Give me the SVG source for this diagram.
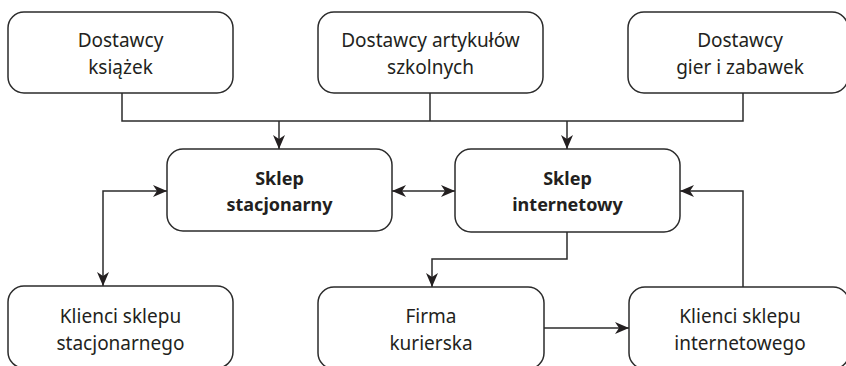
<svg xmlns="http://www.w3.org/2000/svg" width="846" height="366" viewBox="0 0 846 366">
  <style>
    .box { fill: #ffffff; stroke: #2b2b2b; stroke-width: 1.5; }
    .lbl { font-family: "Noto Sans", "Open Sans", sans-serif; font-size: 19px; fill: #231f20; text-anchor: middle; }
    .bold { font-weight: bold; font-size: 18px; }
    .wire { fill: none; stroke: #2b2b2b; stroke-width: 1.5; }
  </style>
  <defs>
    <marker id="head" viewBox="0 0 14 12" refX="14" refY="6" markerWidth="14" markerHeight="12" markerUnits="userSpaceOnUse" orient="auto-start-reverse">
      <path d="M0,0 L14,6 L0,12 L4,6 Z" fill="#231f20"/>
    </marker>
  </defs>

  <rect width="846" height="366" fill="#ffffff"/>

  <!-- connectors -->
  <g id="connectors">
    <!-- supplier bus -->
    <path class="wire" d="M122,93 V121 H743 V93"/>
    <path class="wire" d="M430,93 V121"/>
    <path class="wire" d="M279,121 V149" marker-end="url(#head)"/>
    <path class="wire" d="M567,121 V149" marker-end="url(#head)"/>
    <!-- between shops -->
    <path class="wire" d="M392,191 H455" marker-start="url(#head)" marker-end="url(#head)"/>
    <!-- stationary shop to its customers -->
    <path class="wire" d="M167,191 H103 V286" marker-start="url(#head)" marker-end="url(#head)"/>
    <!-- online shop to courier -->
    <path class="wire" d="M567,232 V259 H432 V287" marker-end="url(#head)"/>
    <!-- courier to online customers -->
    <path class="wire" d="M544,328 H629" marker-end="url(#head)"/>
    <!-- online customers back to online shop -->
    <path class="wire" d="M743,287 V191 H680" marker-end="url(#head)"/>
  </g>

  <g id="dostawcy-ksiazek">
    <rect class="box" x="8" y="12" width="225" height="81" rx="16"/>
    <text class="lbl" x="120.5" y="47">Dostawcy</text>
    <text class="lbl" x="120.5" y="74">książek</text>
  </g>
  <g id="dostawcy-artykulow">
    <rect class="box" x="318" y="12" width="225" height="81" rx="16"/>
    <text class="lbl" x="430.5" y="47">Dostawcy artykułów</text>
    <text class="lbl" x="430.5" y="74">szkolnych</text>
  </g>
  <g id="dostawcy-gier">
    <rect class="box" x="628" y="12" width="220" height="81" rx="16"/>
    <text class="lbl" x="740" y="47">Dostawcy</text>
    <text class="lbl" x="740" y="74">gier i zabawek</text>
  </g>

  <g id="sklep-stacjonarny">
    <rect class="box" x="167" y="149" width="225" height="82" rx="16"/>
    <text class="lbl bold" x="279.5" y="185">Sklep</text>
    <text class="lbl bold" x="279.5" y="211">stacjonarny</text>
  </g>
  <g id="sklep-internetowy">
    <rect class="box" x="455" y="149" width="225" height="83" rx="16"/>
    <text class="lbl bold" x="567.5" y="185">Sklep</text>
    <text class="lbl bold" x="567.5" y="211">internetowy</text>
  </g>

  <g id="klienci-stacjonarnego">
    <rect class="box" x="8" y="286" width="225" height="82" rx="16"/>
    <text class="lbl" x="120.5" y="323">Klienci sklepu</text>
    <text class="lbl" x="120.5" y="350">stacjonarnego</text>
  </g>
  <g id="firma-kurierska">
    <rect class="box" x="318" y="287" width="226" height="82" rx="16"/>
    <text class="lbl" x="431" y="323">Firma</text>
    <text class="lbl" x="431" y="350">kurierska</text>
  </g>
  <g id="klienci-internetowego">
    <rect class="box" x="629" y="287" width="220" height="82" rx="16"/>
    <text class="lbl" x="740" y="323">Klienci sklepu</text>
    <text class="lbl" x="740" y="350">internetowego</text>
  </g>
</svg>
